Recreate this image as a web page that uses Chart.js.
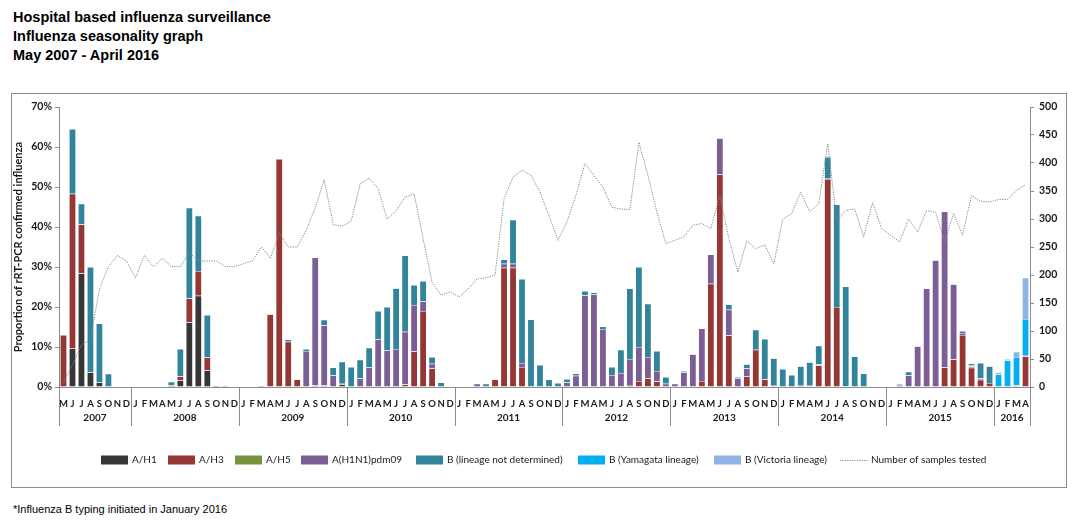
<!DOCTYPE html>
<html>
<head>
<meta charset="utf-8">
<script src="https://cdn.jsdelivr.net/npm/chart.js@4.4.1/dist/chart.umd.min.js"></script>
<style>
    body { margin: 0; background: #fff; width: 1078px; height: 524px; position: relative; overflow: hidden; }
    .title { position: absolute; left: 13px; top: 8px; font: bold 14.5px 'Liberation Sans', Arial, sans-serif; line-height: 19px; color: #000; }
    .note { position: absolute; left: 13px; top: 503px; font: 11px 'Liberation Sans', Arial, sans-serif; color: #000; }
    .box { position: absolute; left: 11px; top: 93px; width: 1054px; height: 393px; border: 1px solid #8c8c8c; }
    canvas { position: absolute; left: 0; top: 0; }
</style>
</head>
<body>
<div class="title">Hospital based influenza surveillance<br>Influenza seasonality graph<br>May 2007 - April 2016</div>
<div class="box"><canvas id="chart" width="1054" height="393"></canvas></div>
<div class="note">*Influenza B typing initiated in January 2016</div>
<script>
// Months May 2007 - April 2016
const monthLetters = ['J','F','M','A','M','J','J','A','S','O','N','D'];
const months = [];
for (let i = 4; i < 12 + 8 * 12 + 4; i++) months.push(monthLetters[i % 12]);
const years = ['2007','2008','2009','2010','2011','2012','2013','2014','2015','2016'];
const yearMonths = [8, 12, 12, 12, 12, 12, 12, 12, 12, 4];

const aH1 = [
    0, 9.7, 28.4, 3.7, 1.2, 0, 0, 0,
    0, 0, 0, 0, 0.4, 1.7, 16.2, 22.8, 4.2, 0.4, 0, 0,
    0, 0, 0, 0, 0, 0, 0, 0, 0, 0, 0, 0.7,
    0, 0, 0, 0, 0, 0, 0, 0, 0, 0, 0, 0,
    0, 0, 0, 0, 0, 0, 0, 0, 0, 0, 0, 0,
    0, 0, 0, 0, 0, 0, 0, 0, 0, 0, 0, 0,
    0, 0, 0, 0, 0, 0, 0, 0, 0, 0, 0, 0,
    0, 0, 0, 0, 0, 0, 0, 0, 0, 0, 0, 0,
    0, 0, 0, 0, 0, 0, 0, 0, 0, 0, 0, 0,
    0, 0, 0, 0
];
const aH3 = [
    13, 38.6, 12.2, 0, 0, 0, 0, 0,
    0, 0, 0, 0, 0, 0.9, 5.9, 6.2, 3.2, 0, 0.4, 0,
    0, 0, 0.4, 18.2, 57, 11.3, 1.9, 0, 0.4, 0.4, 0, 0.3,
    0, 0, 0, 0, 0, 0, 0.6, 8.9, 19, 4.7, 0, 0,
    0, 0, 0, 0, 1.9, 29.8, 29.8, 5, 0, 0, 0, 0,
    0, 0, 0, 0, 0, 0, 0, 0.5, 1.5, 2.2, 1.4, 0,
    0, 0, 0, 1.5, 25.8, 53.2, 12.9, 0, 2.7, 9.3, 1.9, 0.3,
    0, 0, 0, 0, 5.4, 52, 20, 0, 0, 0, 0, 0,
    0, 0, 0, 0, 0, 0, 4.9, 6.9, 13, 4.8, 1.8, 1.0,
    0, 0, 0, 7.6
];
const aH5 = [
    0, 0, 0, 0, 0, 0, 0, 0,
    0, 0, 0, 0, 0, 0, 0, 0, 0, 0, 0, 0,
    0, 0, 0, 0, 0, 0, 0, 0, 0, 0, 0, 0,
    0, 0, 0, 0, 0, 0, 0, 0, 0, 0, 0, 0,
    0, 0, 0, 0, 0, 0, 0, 0, 0, 0, 0, 0,
    0, 0, 0, 0, 0, 0, 0, 0, 0, 0, 0, 0,
    0, 0, 0, 0, 0, 0, 0, 0, 0, 0, 0, 0,
    0, 0, 0, 0, 0, 0, 0, 0, 0, 0, 0, 0,
    0, 0, 0, 0, 0, 0, 0, 0, 0, 0.4, 0, 0,
    0, 0, 0, 0
];
const pdm09 = [
    0, 0, 0, 0, 0, 0, 0, 0,
    0, 0, 0, 0, 0, 0, 0, 0, 0, 0, 0, 0,
    0, 0, 0, 0, 0, 0, 0, 9, 32, 15, 2.9, 0,
    0, 2.2, 4.9, 11.9, 9.2, 9.5, 13.2, 11.6, 2.4, 1.1, 0, 0,
    0, 0, 0.8, 0, 0, 1, 1, 1, 0, 0, 0, 0,
    1.2, 2.8, 22.9, 23.2, 14.5, 3, 3.5, 6.5, 8.5, 5.3, 2.6, 0.8,
    0.8, 3.7, 8.2, 13.1, 7.3, 9, 6.4, 2.1, 1.9, 0, 0, 0,
    0, 0, 0.5, 0.3, 0.2, 0.2, 0, 0.2, 0, 0, 0, 0,
    0, 0.5, 2.9, 10.2, 24.6, 31.7, 39, 18.8, 0.5, 0.2, 0.3, 0,
    0, 0, 0.4, 0.4
];
const bUndetermined = [
    0, 16.2, 5.2, 26.3, 14.7, 3.3, 0, 0,
    0, 0, 0, 0, 0.9, 6.9, 22.7, 13.8, 10.6, 0, 0, 0,
    0, 0, 0, 0, 0, 0.6, 0, 0.5, 0, 1.4, 2, 5.3,
    5, 4.6, 4.9, 7.1, 10.8, 15.2, 19.1, 5, 5.1, 1.7, 1.1, 0,
    0, 0, 0, 0.8, 0, 1.1, 11, 21, 16.9, 5.5, 1.9, 1.0,
    0.8, 0.6, 1.1, 0.4, 0.6, 2, 5.8, 17.6, 20, 13.3, 5, 1.7,
    0, 0.3, 0, 0, 0, 0, 1.3, 0.4, 1.1, 5, 10.1, 6.9,
    4.5, 3, 4.7, 5.9, 4.7, 5.3, 25.6, 24.9, 7.6, 3.4, 0.2, 0,
    0, 0.2, 0.9, 0, 0, 0, 0, 0, 0.5, 0.5, 3.9, 4.2,
    0, 0, 0, 0
];
const bYamagata = new Array(104).fill(0).concat([3.2, 6.7, 7.1, 9]);
const bVictoria = new Array(104).fill(0).concat([0.5, 0.3, 1.3, 10.3]);
const samplesTested = [
    8, 40, 75, 85, 175, 215, 235, 225,
    195, 235, 215, 230, 215, 215, 240, 225, 225, 225, 215, 215,
    220, 225, 250, 230, 275, 250, 250, 280, 320, 370, 290, 287,
    296, 363, 373, 354, 300, 315, 339, 345, 265, 187, 164, 170,
    161, 175, 193, 195, 200, 336, 375, 387, 378, 348, 306, 262,
    295, 342, 399, 378, 357, 321, 318, 317, 437, 378, 312, 256,
    262, 268, 289, 292, 283, 342, 265, 205, 261, 247, 254, 220,
    300, 310, 348, 313, 327, 435, 298, 315, 318, 268, 329, 283,
    271, 259, 300, 277, 315, 312, 259, 310, 271, 342, 332, 330,
    335, 335, 351, 361
];

const axisColor = '#8c8c8c';
const textColor = '#1a1a1a';
const font = "Lato, 'Open Sans', sans-serif";

function barSet(label, data, color) {
    return {
        type: 'bar', label: label, data: data, backgroundColor: color,
        borderColor: 'rgba(255,255,255,0.6)', borderWidth: 0.5,
        stack: 'flu', yAxisID: 'y', categoryPercentage: 0.76, barPercentage: 1, order: 2
    };
}

// year separators, year labels and legend
const extras = {
    id: 'extras',
    afterDraw(chart) {
        const ctx = chart.ctx;
        const x = chart.scales.x;
        const bottom = chart.chartArea.bottom;
        const half = (x.getPixelForValue(1) - x.getPixelForValue(0)) / 2;
        ctx.save();
        ctx.strokeStyle = axisColor;
        ctx.lineWidth = 1;
        ctx.fillStyle = textColor;
        ctx.font = 'bold 10px ' + font;
        ctx.textAlign = 'center';
        ctx.textBaseline = 'middle';
        let idx = 0;
        for (let i = 0; i <= years.length; i++) {
            const edge = Math.round(x.getPixelForValue(idx) - half) + 0.5;
            ctx.beginPath();
            ctx.moveTo(edge, bottom);
            ctx.lineTo(edge, bottom + 39);
            ctx.stroke();
            if (i < years.length) {
                const mid = (x.getPixelForValue(idx) + x.getPixelForValue(idx + yearMonths[i] - 1)) / 2;
                ctx.fillText(years[i], mid, bottom + 31);
                idx += yearMonths[i];
            }
        }

        // legend
        const legendX = [89, 156, 223, 289, 404, 566, 702, 828];
        const ly = 366;
        ctx.font = '10px ' + font;
        ctx.textAlign = 'left';
        chart.data.datasets.forEach((ds, i) => {
            const lx = legendX[i];
            if (ds.type === 'line') {
                ctx.strokeStyle = '#8a8a8a';
                ctx.setLineDash([1.2, 1.2]);
                ctx.beginPath();
                ctx.moveTo(lx, ly + 0.5);
                ctx.lineTo(lx + 28, ly + 0.5);
                ctx.stroke();
                ctx.setLineDash([]);
            } else {
                ctx.fillStyle = ds.backgroundColor;
                ctx.fillRect(lx, ly - 4.5, 27, 9);
            }
            ctx.fillStyle = textColor;
            ctx.fillText(ds.label, lx + 31, ly);
        });
        ctx.restore();
    }
};

new Chart(document.getElementById('chart'), {
    data: {
        labels: months,
        datasets: [
            barSet('A/H1', aH1, '#363636'),
            barSet('A/H3', aH3, '#953735'),
            barSet('A/H5', aH5, '#77933c'),
            barSet('A(H1N1)pdm09', pdm09, '#7b5e96'),
            barSet('B (lineage not determined)', bUndetermined, '#31849b'),
            barSet('B (Yamagata lineage)', bYamagata, '#00b0f0'),
            barSet('B (Victoria lineage)', bVictoria, '#8eb4e3'),
            {
                type: 'line', label: 'Number of samples tested', data: samplesTested,
                yAxisID: 'y1', borderColor: '#858585', borderWidth: 1, borderDash: [1.2, 1.2],
                pointRadius: 0, tension: 0, fill: false, order: 1
            }
        ]
    },
    options: {
        responsive: false,
        animation: false,
        layout: { padding: { top: 13, left: 0, right: 0, bottom: 0 } },
        plugins: { legend: { display: false }, tooltip: { enabled: false } },
        scales: {
            x: {
                stacked: true,
                grid: { display: false },
                border: { color: axisColor },
                ticks: {
                    autoSkip: false, maxRotation: 0, padding: 3,
                    color: textColor, font: { family: font, size: 9.5, weight: 'bold' }
                },
                afterFit(scale) { scale.height = 100; }
            },
            y: {
                stacked: true, position: 'left', min: 0, max: 70,
                grid: { drawOnChartArea: false, tickLength: 4, color: axisColor },
                border: { color: axisColor },
                ticks: {
                    stepSize: 10, padding: 3, color: textColor,
                    font: { family: font, size: 10.5, weight: 'bold' },
                    callback: v => v + '%'
                },
                title: {
                    display: true, text: 'Proportion of rRT-PCR confirmed influenza',
                    color: textColor, font: { family: font, size: 11, weight: 'bold' }, padding: 0
                },
                afterFit(scale) { scale.width = 47; }
            },
            y1: {
                position: 'right', min: 0, max: 500,
                grid: { drawOnChartArea: false, tickLength: 4, color: axisColor },
                border: { color: axisColor },
                ticks: {
                    stepSize: 50, padding: 5, color: textColor,
                    font: { family: font, size: 10.5, weight: 'bold' }
                },
                afterFit(scale) { scale.width = 36; }
            }
        }
    },
    plugins: [extras]
});
</script>
</body>
</html>
